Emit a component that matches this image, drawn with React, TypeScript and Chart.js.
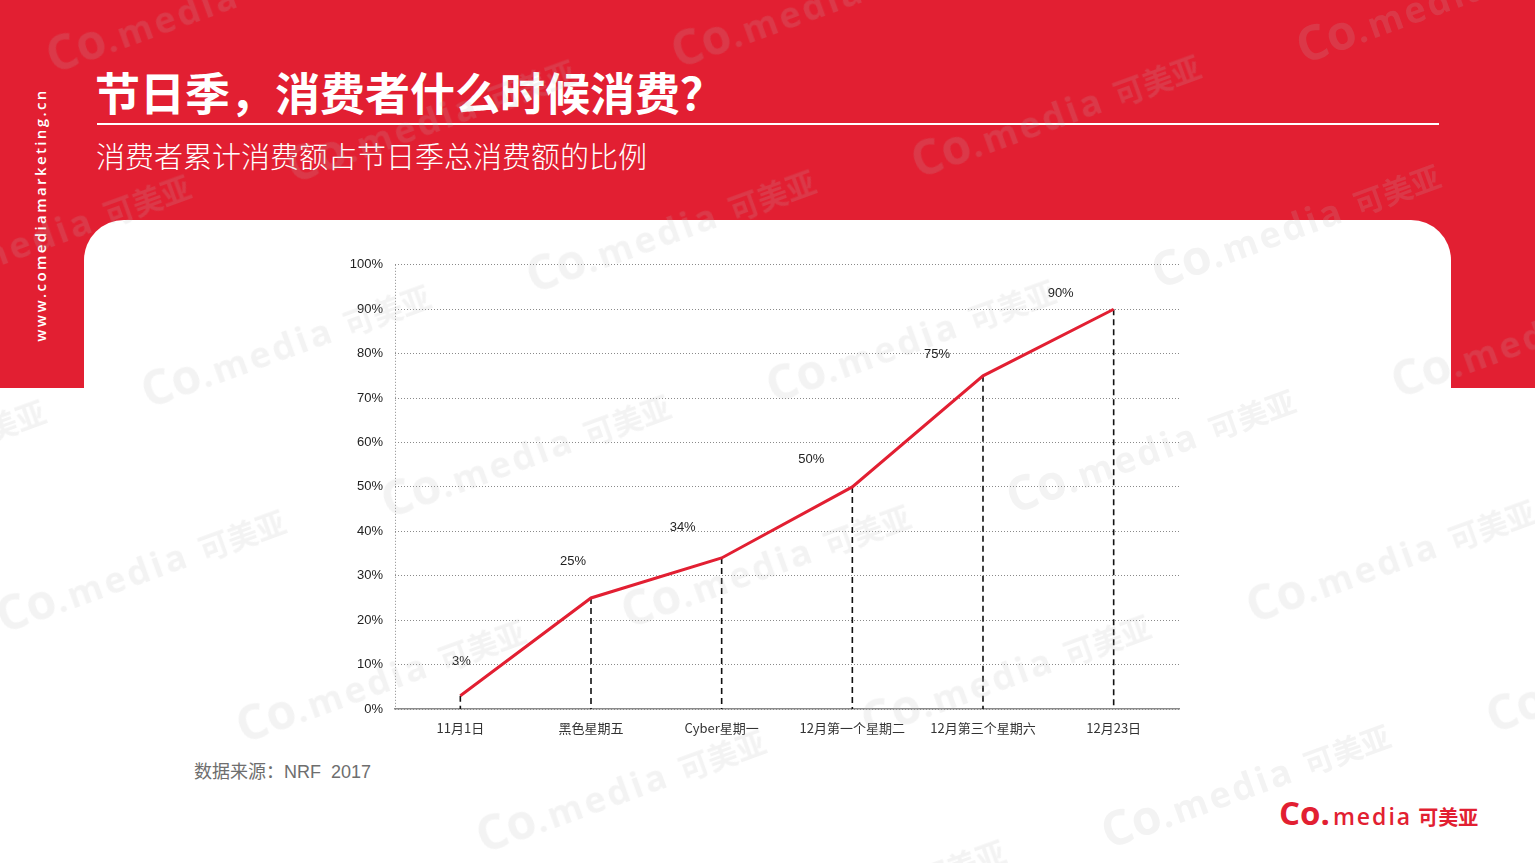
import React, { useEffect, useRef } from 'react';
import { Chart, registerables } from 'chart.js';

Chart.register(...registerables);

// ---- data ----
const categories = ['11月1日', '黑色星期五', 'Cyber星期一', '12月第一个星期二', '12月第三个星期六', '12月23日'];
const shareValues = [3, 25, 34, 50, 75, 90];
const yTickValues = [0, 10, 20, 30, 40, 50, 60, 70, 80, 90, 100];
// label offsets (relative to each point), px
const labelOffsets = [[1, -34], [-18, -37], [-39, -31], [-41, -27], [-46, -21], [-53, -16]];

const RED = '#e21f32';
const CJK = "'Noto Sans CJK SC', 'Noto Sans', sans-serif";
const LATIN = "'Liberation Sans', Arial, sans-serif";

function Watermarks() {
  const items: { x: number; y: number }[] = [];
  for (let j = -1; j < 9; j++) {
    for (let i = -2; i < 4; i++) {
      const x = 60 + i * 625 + j * 240;
      const y = 80 - i * 5 + j * 110;
      items.push({ x, y });
    }
  }
  return (
    <div style={{ position: 'absolute', inset: 0, pointerEvents: 'none', overflow: 'hidden' }}>
      {items.map((p, k) => (
        <div
          key={k}
          aria-hidden="true"
          style={{
            position: 'absolute',
            left: p.x,
            top: p.y - 50,
            transform: 'rotate(-20deg)',
            transformOrigin: 'left bottom',
            whiteSpace: 'nowrap',
            color: 'rgba(185,185,185,0.17)',
            fontFamily: "'Open Sans', sans-serif",
            fontWeight: 700,
            lineHeight: '50px',
          }}
        >
          <span style={{ fontSize: 48 }}>Co</span>
          <span style={{ fontSize: 36, letterSpacing: 3 }}>.media </span>
          <span style={{ fontSize: 30, fontFamily: CJK }}>可美亚</span>
        </div>
      ))}
    </div>
  );
}

export default function App() {
  const ref = useRef<HTMLCanvasElement>(null);

  useEffect(() => {
    document.body.style.margin = '0';
    const canvas = ref.current;
    if (!canvas) return;

    const dropLines = {
      id: 'dropLines',
      beforeDatasetsDraw(chart: any) {
        const { ctx, chartArea } = chart;
        const meta = chart.getDatasetMeta(0);
        ctx.save();
        // dotted left axis
        ctx.strokeStyle = '#8a8a8a';
        ctx.lineWidth = 1;
        ctx.setLineDash([1, 2]);
        ctx.beginPath();
        ctx.moveTo(chartArea.left + 0.5, chartArea.top);
        ctx.lineTo(chartArea.left + 0.5, chartArea.bottom);
        ctx.stroke();
        // dashed drop lines
        ctx.strokeStyle = '#111';
        ctx.lineWidth = 1.6;
        ctx.setLineDash([6, 4]);
        meta.data.forEach((pt: any) => {
          ctx.beginPath();
          ctx.moveTo(pt.x, pt.y);
          ctx.lineTo(pt.x, chartArea.bottom);
          ctx.stroke();
        });
        ctx.restore();
      },
    };

    const valueLabels = {
      id: 'valueLabels',
      afterDatasetsDraw(chart: any) {
        const { ctx } = chart;
        const meta = chart.getDatasetMeta(0);
        ctx.save();
        ctx.fillStyle = '#222';
        ctx.font = `13px ${LATIN}`;
        ctx.textAlign = 'center';
        ctx.textBaseline = 'middle';
        meta.data.forEach((pt: any, i: number) => {
          const [dx, dy] = labelOffsets[i];
          ctx.fillText(`${shareValues[i]}%`, pt.x + dx, pt.y + dy);
        });
        ctx.restore();
      },
    };

    const chart = new Chart(canvas, {
      type: 'line',
      data: {
        labels: categories,
        datasets: [
          {
            data: shareValues,
            borderColor: RED,
            borderWidth: 3,
            pointRadius: 0,
            tension: 0,
            fill: false,
          },
        ],
      },
      options: {
        animation: false,
        responsive: false,
        maintainAspectRatio: false,
        layout: { padding: { top: 10, right: 1, left: 0, bottom: 0 } },
        plugins: { legend: { display: false }, tooltip: { enabled: false } },
        scales: {
          x: {
            offset: true,
            grid: { display: false },
            border: { color: '#8a8a8a', width: 1.5 },
            ticks: { color: '#333', font: { family: CJK, size: 13 }, padding: 3, maxRotation: 0, autoSkip: false },
            afterFit(s: any) {
              s.height = 40;
            },
          },
          y: {
            min: 0,
            max: 100,
            afterBuildTicks(s: any) {
              s.ticks = yTickValues.map((v) => ({ value: v }));
            },
            grid: { color: '#8a8a8a', lineWidth: 1, drawTicks: false },
            border: { display: false, dash: [1, 2] },
            ticks: {
              callback: (v: any) => `${v}%`,
              color: '#222',
              font: { family: LATIN, size: 13 },
              padding: 12,
            },
            afterFit(s: any) {
              s.width = 95;
            },
          },
        },
      },
      plugins: [dropLines, valueLabels],
    } as any);

    return () => chart.destroy();
  }, []);

  return (
    <div style={{ position: 'relative', width: 1535, height: 863, overflow: 'hidden', background: '#fff' }}>
      {/* red header band */}
      <div style={{ position: 'absolute', left: 0, top: 0, width: 1535, height: 388, background: RED }} />
      {/* white card */}
      <div
        style={{
          position: 'absolute',
          left: 84,
          top: 220,
          width: 1367,
          height: 700,
          background: '#fff',
          borderTopLeftRadius: 40,
          borderTopRightRadius: 40,
        }}
      />
      {/* vertical site text */}
      <div
        style={{
          position: 'absolute',
          left: 40,
          top: 215,
          transform: 'translate(-50%, -50%) rotate(-90deg)',
          whiteSpace: 'nowrap',
          color: '#fff',
          fontFamily: "'Open Sans', sans-serif",
          fontWeight: 600,
          fontSize: 15,
          letterSpacing: 2.4,
        }}
      >
        www.comediamarketing.cn
      </div>
      {/* title */}
      <div
        style={{
          position: 'absolute',
          left: 95,
          top: 63,
          color: '#fff',
          fontFamily: CJK,
          fontWeight: 700,
          fontSize: 45,
          lineHeight: '58px',
          whiteSpace: 'nowrap',
        }}
      >
        节日季，消费者什么时候消费？
      </div>
      <div style={{ position: 'absolute', left: 97, top: 123, width: 1342, height: 2, background: '#fff' }} />
      <div
        style={{
          position: 'absolute',
          left: 96,
          top: 135,
          color: '#fff',
          fontFamily: CJK,
          fontWeight: 300,
          fontSize: 29,
          lineHeight: '40px',
          whiteSpace: 'nowrap',
        }}
      >
        消费者累计消费额占节日季总消费额的比例
      </div>
      {/* chart */}
      <canvas
        ref={ref}
        width={880}
        height={504}
        style={{ position: 'absolute', left: 300, top: 245, width: 880, height: 504 }}
      />
      {/* source */}
      <div
        style={{
          position: 'absolute',
          left: 194,
          top: 758,
          color: '#6e6e6e',
          fontFamily: CJK,
          fontSize: 18,
          lineHeight: '24px',
          whiteSpace: 'pre',
        }}
      >
        数据来源：<span style={{ fontFamily: LATIN }}>NRF  2017</span>
      </div>
      {/* logo */}
      <div
        style={{
          position: 'absolute',
          left: 1279,
          top: 793,
          color: RED,
          whiteSpace: 'nowrap',
          lineHeight: '40px',
          fontFamily: "'Open Sans', sans-serif",
        }}
      >
        <span style={{ fontSize: 33, fontWeight: 700 }}>Co.</span>
        <span style={{ fontSize: 23, fontWeight: 600, letterSpacing: 2, marginLeft: 3 }}>media</span>
        <span style={{ fontSize: 20, fontWeight: 700, fontFamily: CJK, marginLeft: 6 }}>可美亚</span>
      </div>
      <Watermarks />
    </div>
  );
}
